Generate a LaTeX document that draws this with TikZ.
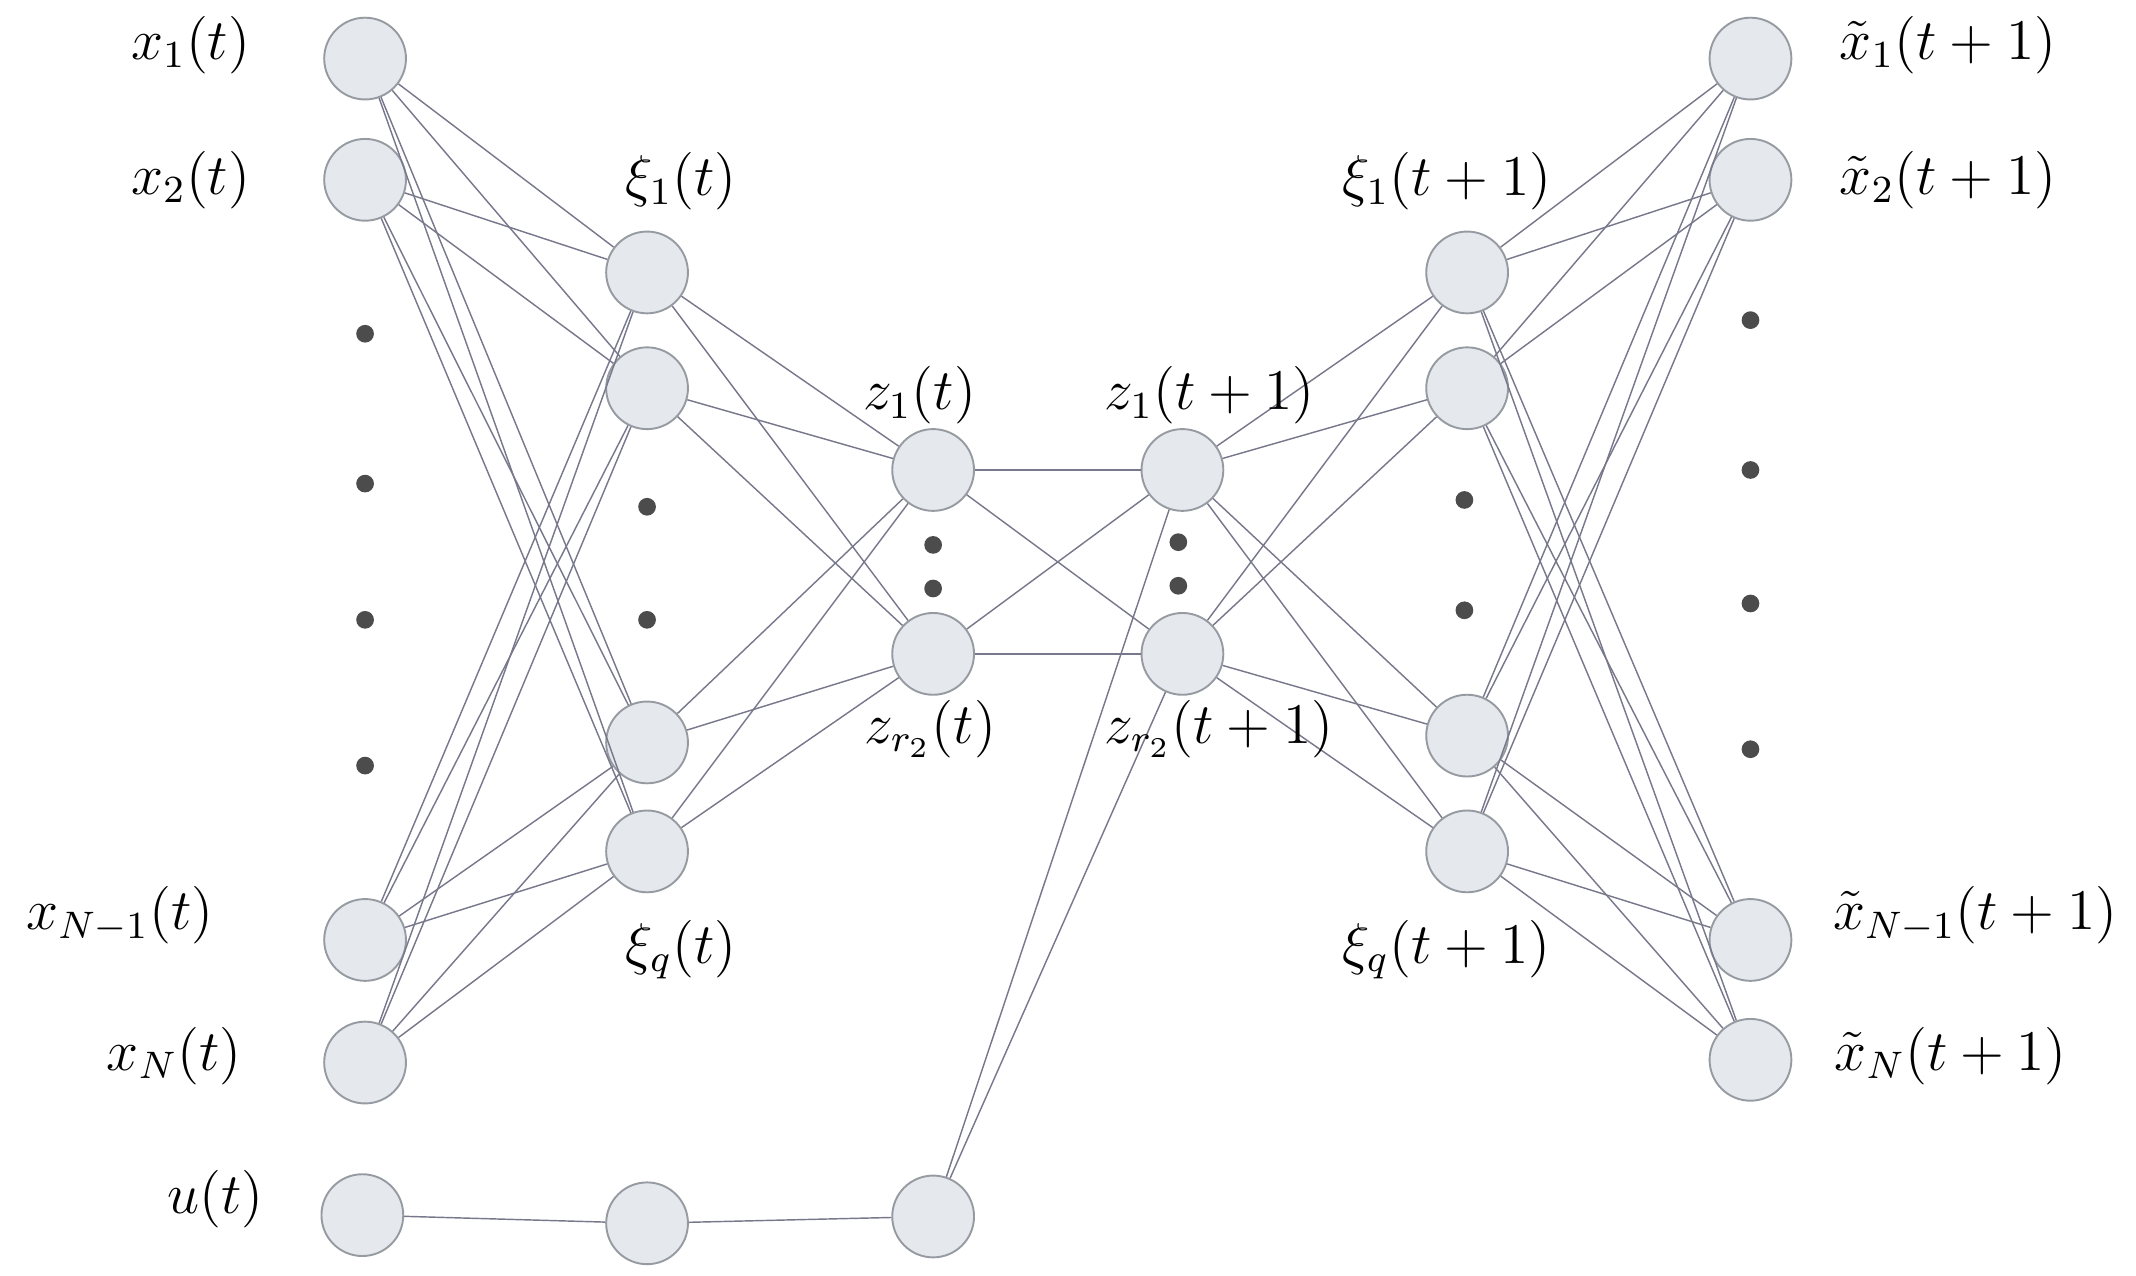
\documentclass[tikz,border=0pt]{standalone}
\usepackage{tikz}
\definecolor{nodefill}{RGB}{229,233,238}
\definecolor{nodeline}{RGB}{150,155,162}
\definecolor{edgecol}{RGB}{120,120,140}
\tikzset{
  neuron/.style={circle,draw=nodeline,fill=nodefill,minimum size=0.6cm,inner sep=0pt},
  edge/.style={draw=edgecol,line width=0.3pt},
  dot/.style={circle,fill=black!70,minimum size=0.13cm,inner sep=0pt},
  lab/.style={font=\large}
}
\begin{document}
\begin{tikzpicture}[x=0.01cm,y=-0.01cm]
\useasboundingbox (0,0) rectangle (1568,936);
% input layer
\node[neuron] (a1) at (268,43) {};
\node[neuron] (a2) at (268,132) {};
\node[neuron] (a3) at (268,690) {};
\node[neuron] (a4) at (268,780) {};
\node[neuron] (u1) at (266,892) {};
% encoder layer
\node[neuron] (b1) at (475,200) {};
\node[neuron] (b2) at (475,285) {};
\node[neuron] (b3) at (475,545) {};
\node[neuron] (b4) at (475,625) {};
\node[neuron] (u2) at (475,898) {};
% latent layers
\node[neuron] (c1) at (685,345) {};
\node[neuron] (c2) at (685,480) {};
\node[neuron] (u3) at (685,893) {};
\node[neuron] (d1) at (868,345) {};
\node[neuron] (d2) at (868,480) {};
% decoder layer
\node[neuron] (e1) at (1077,200) {};
\node[neuron] (e2) at (1077,285) {};
\node[neuron] (e3) at (1077,540) {};
\node[neuron] (e4) at (1077,625) {};
% output layer
\node[neuron] (f1) at (1285,43) {};
\node[neuron] (f2) at (1285,132) {};
\node[neuron] (f3) at (1285,690) {};
\node[neuron] (f4) at (1285,778) {};
% dots
\foreach \y in {245,355,455,562} \node[dot] at (268,\y) {};
\foreach \y in {372,455} \node[dot] at (475,\y) {};
\foreach \y in {400,432} \node[dot] at (685,\y) {};
\foreach \y in {398,430} \node[dot] at (865,\y) {};
\foreach \y in {367,448} \node[dot] at (1075,\y) {};
\foreach \y in {235,345,443,550} \node[dot] at (1285,\y) {};
% connections
\foreach \i in {1,...,4} \foreach \j in {1,...,4} \draw[edge] (a\i) -- (b\j);
\foreach \i in {1,...,4} \foreach \j in {1,2} \draw[edge] (b\i) -- (c\j);
\foreach \i in {1,2} \foreach \j in {1,2} \draw[edge] (c\i) -- (d\j);
\foreach \i in {1,2} \foreach \j in {1,...,4} \draw[edge] (d\i) -- (e\j);
\foreach \i in {1,...,4} \foreach \j in {1,...,4} \draw[edge] (e\i) -- (f\j);
\draw[edge] (u1) -- (u2);
\draw[edge] (u2) -- (u3);
\draw[edge] (u3) -- (d1);
\draw[edge] (u3) -- (d2);
% labels
\node[lab] (la1) at (140,33) {$x_1(t)$};
\node[lab] (la2) at (140,132) {$x_2(t)$};
\node[lab] (la3) at (88,672) {$x_{N-1}(t)$};
\node[lab] (la4) at (128,775) {$x_N(t)$};
\node[lab] (lu) at (158,880) {$u(t)$};
\node[lab] (lb1) at (500,133) {$\xi_1(t)$};
\node[lab] (lb4) at (500,697) {$\xi_q(t)$};
\node[lab] (lc1) at (675,290) {$z_1(t)$};
\node[lab] (lc2) at (683,535) {$z_{r_2}(t)$};
\node[lab] (ld1) at (888,290) {$z_1(t+1)$};
\node[lab] (ld2) at (895,535) {$z_{r_2}(t+1)$};
\node[lab] (le1) at (1062,133) {$\xi_1(t+1)$};
\node[lab] (le4) at (1062,697) {$\xi_q(t+1)$};
\node[lab] (lf1) at (1430,33) {$\tilde{x}_1(t+1)$};
\node[lab] (lf2) at (1430,132) {$\tilde{x}_2(t+1)$};
\node[lab] (lf3) at (1450,672) {$\tilde{x}_{N-1}(t+1)$};
\node[lab] (lf4) at (1432,775) {$\tilde{x}_N(t+1)$};
\end{tikzpicture}
\end{document}
